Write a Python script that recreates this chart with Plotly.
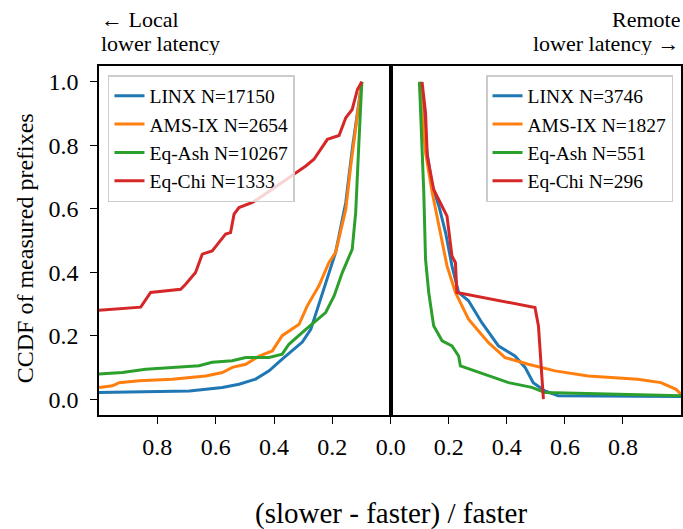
import plotly.graph_objects as go

# ---------------- data ----------------
series_names = ["LINX", "AMS-IX", "Eq-Ash", "Eq-Chi"]
colors = ["#1f77b4", "#ff7f0e", "#2ca02c", "#d62728"]
local_counts = [17150, 2654, 10267, 1333]
remote_counts = [3746, 1827, 551, 296]

# Left panel (local lower latency), x axis reversed
linx_local_x = [1.0, 0.69, 0.577, 0.52, 0.463, 0.417, 0.372, 0.337, 0.303, 0.274, 0.246, 0.212, 0.189, 0.154, 0.132, 0.114, 0.099]
linx_local_y = [0.021, 0.026, 0.037, 0.047, 0.063, 0.089, 0.126, 0.152, 0.18, 0.22, 0.3, 0.399, 0.462, 0.62, 0.787, 0.903, 1.0]
ams_local_x = [1.0, 0.954, 0.931, 0.863, 0.749, 0.634, 0.577, 0.543, 0.497, 0.451, 0.406, 0.372, 0.314, 0.286, 0.246, 0.212, 0.189, 0.154, 0.137, 0.12, 0.099]
ams_local_y = [0.037, 0.042, 0.052, 0.058, 0.063, 0.073, 0.084, 0.1, 0.11, 0.136, 0.152, 0.2, 0.236, 0.294, 0.357, 0.43, 0.462, 0.598, 0.735, 0.861, 1.0]
ash_local_x = [1.0, 0.92, 0.84, 0.657, 0.612, 0.543, 0.497, 0.417, 0.372, 0.349, 0.291, 0.257, 0.223, 0.194, 0.166, 0.132, 0.12, 0.109, 0.099]
ash_local_y = [0.079, 0.084, 0.094, 0.105, 0.116, 0.121, 0.131, 0.131, 0.142, 0.173, 0.22, 0.247, 0.273, 0.325, 0.399, 0.472, 0.588, 0.808, 1.0]
chi_local_x = [1.0, 0.857, 0.823, 0.72, 0.703, 0.669, 0.646, 0.612, 0.594, 0.566, 0.549, 0.537, 0.52, 0.474, 0.44, 0.291, 0.263, 0.251, 0.217, 0.177, 0.154, 0.132, 0.114, 0.099]
chi_local_y = [0.28, 0.29, 0.336, 0.346, 0.362, 0.399, 0.457, 0.467, 0.488, 0.52, 0.525, 0.583, 0.604, 0.62, 0.64, 0.735, 0.756, 0.772, 0.819, 0.831, 0.887, 0.913, 0.976, 1.0]

# Right panel (remote lower latency)
linx_remote_x = [0.103, 0.12, 0.143, 0.166, 0.189, 0.211, 0.234, 0.268, 0.314, 0.371, 0.428, 0.463, 0.491, 0.531, 0.577, 1.0]
linx_remote_y = [1.0, 0.808, 0.672, 0.609, 0.525, 0.42, 0.336, 0.31, 0.241, 0.168, 0.136, 0.1, 0.052, 0.026, 0.011, 0.008]
ams_remote_x = [0.099, 0.12, 0.143, 0.171, 0.194, 0.223, 0.268, 0.337, 0.394, 0.474, 0.566, 0.68, 0.851, 0.931, 0.983, 1.0]
ams_remote_y = [1.0, 0.777, 0.651, 0.525, 0.42, 0.336, 0.252, 0.178, 0.131, 0.11, 0.089, 0.073, 0.063, 0.052, 0.031, 0.016]
ash_remote_x = [0.099, 0.114, 0.12, 0.131, 0.148, 0.177, 0.211, 0.234, 0.24, 0.337, 0.406, 0.486, 0.531, 1.0]
ash_remote_y = [1.0, 0.651, 0.441, 0.336, 0.231, 0.184, 0.168, 0.136, 0.105, 0.073, 0.052, 0.037, 0.021, 0.011]
chi_remote_x = [0.108, 0.12, 0.126, 0.148, 0.194, 0.211, 0.223, 0.228, 0.497, 0.509, 0.526]
chi_remote_y = [1.0, 0.903, 0.766, 0.661, 0.577, 0.451, 0.43, 0.336, 0.289, 0.231, 0.0]

left_ticks = [0.8, 0.6, 0.4, 0.2]
right_ticks = [0.0, 0.2, 0.4, 0.6, 0.8]
y_ticks = [0.0, 0.2, 0.4, 0.6, 0.8, 1.0]

local_data = [(linx_local_x, linx_local_y), (ams_local_x, ams_local_y),
              (ash_local_x, ash_local_y), (chi_local_x, chi_local_y)]
remote_data = [(linx_remote_x, linx_remote_y), (ams_remote_x, ams_remote_y),
               (ash_remote_x, ash_remote_y), (chi_remote_x, chi_remote_y)]

FONT = "Liberation Serif"

fig = go.Figure()
for i, (xs, ys) in enumerate(local_data):
    fig.add_trace(go.Scatter(
        x=xs, y=ys, mode="lines", xaxis="x", yaxis="y",
        line=dict(color=colors[i], width=3),
        name=f"{series_names[i]} N={local_counts[i]}",
        legend="legend", legendgroup=f"l{i}"))
for i, (xs, ys) in enumerate(remote_data):
    fig.add_trace(go.Scatter(
        x=xs, y=ys, mode="lines", xaxis="x2", yaxis="y2",
        line=dict(color=colors[i], width=3),
        name=f"{series_names[i]} N={remote_counts[i]}",
        legend="legend2", legendgroup=f"r{i}"))

split = (391.7 - 99) / 584.0
axis_common = dict(showgrid=False, zeroline=False, showline=True, linecolor="black",
                   linewidth=1.5, ticks="outside", ticklen=7, tickwidth=1.3,
                   tickcolor="black", mirror=True,
                   tickfont=dict(family=FONT, size=24, color="black"))

legend_common = dict(font=dict(family=FONT, size=19.5, color="black"),
                     bgcolor="rgba(255,255,255,0.8)", bordercolor="#cccccc",
                     borderwidth=1.5, tracegroupgap=0, yanchor="top",
                     itemwidth=30)

fig.update_layout(
    width=683, height=529,
    margin=dict(l=99, r=0, t=66, b=114),
    paper_bgcolor="white", plot_bgcolor="white",
    font=dict(family=FONT, color="black", size=20),
    xaxis=dict(domain=[0, split], range=[1.0, 0.0], tickvals=left_ticks,
               ticktext=[f"{v:.1f}" for v in left_ticks], anchor="y",
               ticklabelstandoff=2, **axis_common),
    xaxis2=dict(domain=[split, 1.0], range=[0.0, 1.0], tickvals=right_ticks,
                ticktext=[f"{v:.1f}" for v in right_ticks], anchor="y2",
                ticklabelstandoff=2, **axis_common),
    yaxis=dict(domain=[0, 1], range=[-0.05, 1.05], tickvals=y_ticks,
               ticktext=[f"{v:.1f}" for v in y_ticks], anchor="x",
               ticklabelstandoff=7, **axis_common),
    yaxis2=dict(domain=[0, 1], range=[-0.05, 1.05], anchor="x2", matches="y",
                showticklabels=False, ticks="", showgrid=False, zeroline=False,
                showline=True, linecolor="black", linewidth=1.5, mirror=True),
    legend=dict(x=(108 - 99) / 584.0, y=(415 - 75) / 349.0, xanchor="left", **legend_common),
    legend2=dict(x=(675 - 99) / 584.0, y=(415 - 75) / 349.0, xanchor="right", **legend_common),
    showlegend=True,
)

ann_font = dict(family=FONT, size=22, color="black")
for text, xa, xpos, ypix in [("← Local", "left", (100 - 99) / 584.0, 19),
                             ("lower latency", "left", (100 - 99) / 584.0, 43),
                             ("Remote", "right", 1.0, 19),
                             ("lower latency →", "right", 1.0, 43)]:
    fig.add_annotation(text=text, xref="paper", yref="paper", x=xpos,
                       y=(415 - ypix) / 349.0, xanchor=xa, yanchor="middle",
                       showarrow=False, font=ann_font, height=24, borderpad=0)

fig.add_annotation(text="CCDF of measured prefixes", xref="paper", yref="paper",
                   x=(25 - 99) / 584.0, y=(415 - 248) / 349.0, xanchor="center",
                   yanchor="middle", textangle=-90, showarrow=False,
                   font=dict(family=FONT, size=24, color="black"))
fig.add_annotation(text="(slower - faster) / faster", xref="paper", yref="paper",
                   x=split, y=(415 - 513) / 349.0, xanchor="center", yanchor="middle",
                   showarrow=False, font=dict(family=FONT, size=29, color="black"))

fig.write_html("out.html")
